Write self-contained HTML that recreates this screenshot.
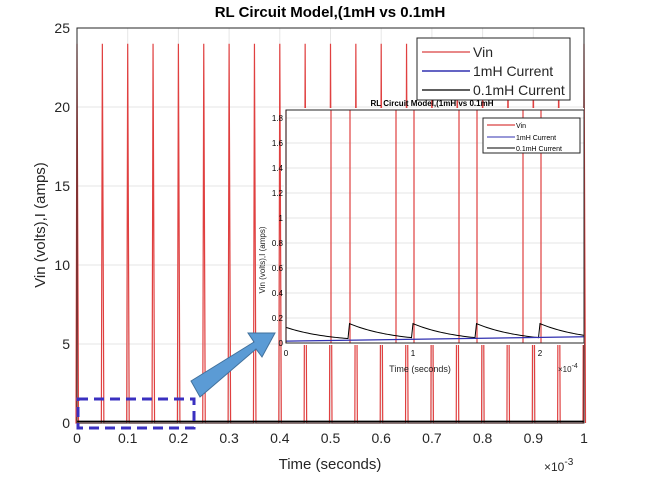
<!DOCTYPE html><html><head><style>body{margin:0;background:#fff}svg{display:block;font-family:"Liberation Sans",sans-serif}</style></head><body>
<svg id="s" width="655" height="484" xmlns="http://www.w3.org/2000/svg">
<rect width="655" height="484" fill="#fff"/>
<g id="grid" stroke="#e6e6e6" stroke-width="1"></g>
<g id="main"></g>
<rect x="77" y="28" width="507" height="395" fill="none" stroke="#262626"/>
<g id="ticks" font-size="14" fill="#262626"></g>
<text x="330" y="17" text-anchor="middle" font-size="15" font-weight="bold">RL Circuit Model,(1mH vs 0.1mH</text>
<text x="330" y="469" text-anchor="middle" font-size="15" fill="#262626">Time (seconds)</text>
<text x="544" y="471" font-size="12" fill="#262626">×10<tspan dy="-6" font-size="10">-3</tspan></text>
<text transform="translate(45,225) rotate(-90)" text-anchor="middle" font-size="15" fill="#262626">Vin (volts),I (amps)</text>
<rect x="417" y="38" width="153" height="62" fill="#fff" stroke="#262626"/>
<line x1="422" y1="52" x2="470" y2="52" stroke="#e06060" stroke-width="1.5"/>
<line x1="422" y1="71" x2="470" y2="71" stroke="#3030b0" stroke-width="1.5"/>
<line x1="422" y1="90" x2="470" y2="90" stroke="#000" stroke-width="1.2"/>
<text x="473" y="57" font-size="14" fill="#262626">Vin</text>
<text x="473" y="76" font-size="14" fill="#262626">1mH Current</text>
<text x="473" y="95" font-size="14" fill="#262626">0.1mH Current</text>
<rect x="284" y="108" width="300" height="237" fill="#fff"/>
<g id="inset"></g>
<rect x="286" y="110" width="298" height="233" fill="none" stroke="#262626"/>
<text x="432" y="106" text-anchor="middle" font-size="8" font-weight="bold">RL Circuit Model,(1mH vs 0.1mH</text>
<text x="420" y="372" text-anchor="middle" font-size="9" fill="#262626">Time (seconds)</text>
<text x="558" y="372" font-size="8" fill="#262626">×10<tspan dy="-4" font-size="7">-4</tspan></text>
<text transform="translate(265,260) rotate(-90)" text-anchor="middle" font-size="8" fill="#262626">Vin (volts),I (amps)</text>
<rect x="483" y="118" width="97" height="35" fill="#fff" stroke="#262626"/>
<line x1="487" y1="125" x2="515" y2="125" stroke="#e06060" stroke-width="1.5"/>
<line x1="487" y1="137" x2="515" y2="137" stroke="#3030b0"/>
<line x1="487" y1="148" x2="515" y2="148" stroke="#000"/>
<text x="516" y="128" font-size="7">Vin</text>
<text x="516" y="140" font-size="7">1mH Current</text>
<text x="516" y="151" font-size="7">0.1mH Current</text>
<rect x="78" y="399" width="116" height="29" fill="none" stroke="#3a30c0" stroke-width="3" stroke-dasharray="10,6"/>
<polygon points="191,381 254,342 248,333 275,333 262,357 256,349 200,397" fill="#5b9bd5" stroke="#41719c"/>
</svg>
<script>
const ns="http://www.w3.org/2000/svg";
function el(p,t,a){const e=document.createElementNS(ns,t);for(const k in a)e.setAttribute(k,a[k]);document.getElementById(p).appendChild(e);return e;}
const X=v=>77+v*507, Y=v=>423-v*15.8;
for(let i=1;i<10;i++)el("grid","line",{x1:X(i/10),x2:X(i/10),y1:28,y2:423});
for(let j=1;j<5;j++)el("grid","line",{x1:77,x2:584,y1:Y(j*5),y2:Y(j*5)});
for(let i=0;i<=10;i++){let t=el("ticks","text",{x:X(i/10),y:443,"text-anchor":"middle"});t.textContent=i==0?"0":i==10?"1":"0."+i;}
for(let j=0;j<=5;j++){let t=el("ticks","text",{x:70,y:Y(j*5)+5,"text-anchor":"end"});t.textContent=j*5;}
let d="M77,423";
for(let k=0;k<=20;k++){let x=X(k*0.05);d+=` L${x-1},${Y(0)} L${x},${Y(24)} L${x+1.5},${Y(0)}`;}
el("main","path",{d,fill:"none",stroke:"#e04040","stroke-width":1.2});
el("main","line",{x1:77,y1:Y(0.1),x2:584,y2:Y(0.1),stroke:"#000","stroke-width":1.5});
const IX=v=>286+v*127, IY=v=>343-v*125;
for(let i=1;i<=9;i++)el("inset","line",{x1:286,x2:584,y1:IY(i*0.2),y2:IY(i*0.2),stroke:"#e6e6e6"});
for(const x of [286,331,350,396,414,459,477,523,541]){el("inset","line",{x1:x,x2:x,y1:110,y2:343,stroke:"#e04040","stroke-width":1.2});}
let bd="";
for(let k=0;k<5;k++){let x0=k===0?286:286+k*63.5,x1=286+(k+1)*63.5;let a=k===0?0.12:0.15;
 for(let x=x0;x<=Math.min(x1,584);x+=2){let v=a*Math.exp(-(x-x0)/45)+0.005;bd+=(bd?" L":"M")+x+","+IY(v);}}
el("inset","path",{d:bd,fill:"none",stroke:"#000","stroke-width":1});
el("inset","path",{d:`M286,${IY(0.015)} L584,${IY(0.05)}`,stroke:"#3030b0","stroke-width":1.2});
[[0,"0"],[1,"1"],[2,"2"]].forEach(([v,s])=>{let t=el("inset","text",{x:IX(v),y:356,"font-size":8,"text-anchor":"middle"});t.textContent=s;});
for(let i=0;i<=9;i++){let t=el("inset","text",{x:283,y:IY(i*0.2)+3,"font-size":8,"text-anchor":"end"});t.textContent=i==0?"0":i==5?"1":(i*0.2).toFixed(1);}
</script>
</body></html>
